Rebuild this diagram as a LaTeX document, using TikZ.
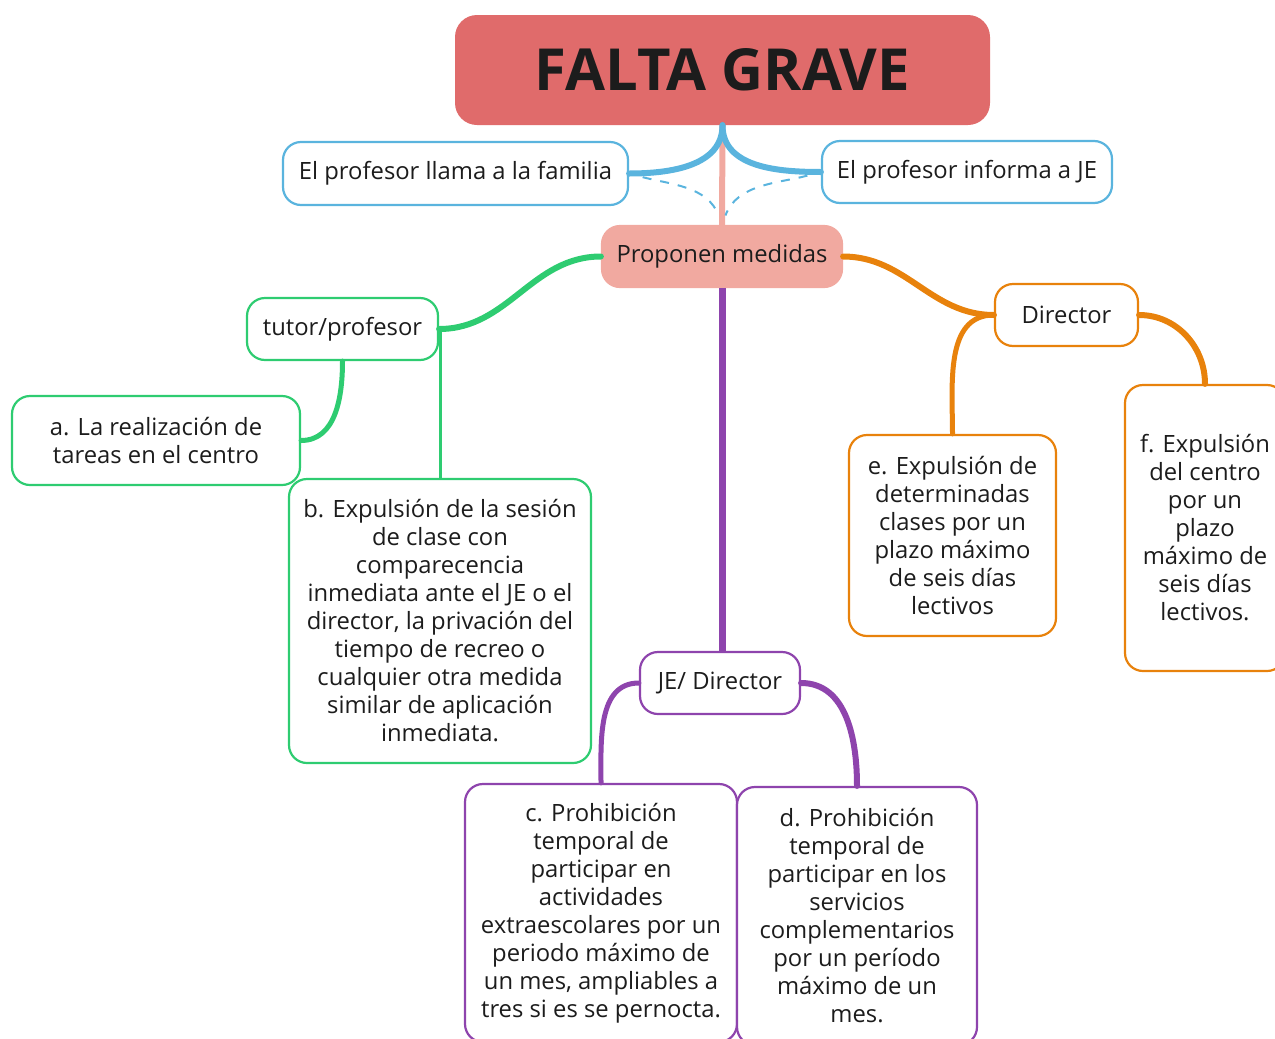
\documentclass[tikz,border=0pt]{standalone}
\usepackage{fontspec}
\setmainfont{Open Sans}
\definecolor{gravered}{HTML}{E06B6B}
\definecolor{salmon}{HTML}{F1A9A0}
\definecolor{azul}{HTML}{5AB4DE}
\definecolor{verde}{HTML}{2ECC71}
\definecolor{naranja}{HTML}{E8820C}
\definecolor{morado}{HTML}{8E44AD}
\definecolor{textgray}{HTML}{1C1C1C}
\begin{document}
\begin{tikzpicture}[x=1pt, y=-1pt,
  caja/.style={draw, line width=2.2pt, rounded corners=18pt, fill=white, align=center,
    inner sep=0pt, font=\fontsize{23.8}{28}\selectfont, text=textgray},
  rama/.style={line width=5pt, line cap=round},
  guion/.style={line width=2pt, dash pattern=on 9pt off 9pt, shorten <=14pt, shorten >=10pt}]
\useasboundingbox (0,0) rectangle (1275,1039);
% nodos principales
\node[fill=gravered, rounded corners=22pt, minimum width=535pt, minimum height=110pt,
  font=\fontsize{58}{58}\selectfont\bfseries, text=textgray] (grave) at (722.5,70) {FALTA GRAVE};
\node[caja, draw=azul, minimum width=345pt, minimum height=63pt] (llama) at (455.5,173.5) {El profesor llama a la familia};
\node[caja, draw=azul, minimum width=290pt, minimum height=62pt] (informa) at (967,172) {El profesor informa a JE};
\node[caja, draw=salmon, fill=salmon, minimum width=240pt, minimum height=61pt] (medidas) at (722,256.5) {Proponen medidas};
% rama verde
\node[caja, draw=verde, minimum width=191pt, minimum height=62pt] (tutor) at (342.5,329) {tutor/profesor};
\node[caja, draw=verde, minimum width=288pt, minimum height=89pt] (tareaa) at (156,440.5) {a. La realización de\\tareas en el centro};
\node[caja, draw=verde, minimum width=302pt, minimum height=284pt] (tareab) at (440,621) {b. Expulsión de la sesión\\de clase con\\comparecencia\\inmediata ante el JE o el\\director, la privación del\\tiempo de recreo o\\cualquier otra medida\\similar de aplicación\\inmediata.};
% rama naranja
\node[caja, draw=naranja, minimum width=143pt, minimum height=62pt] (director) at (1066.5,315) {Director};
\node[caja, draw=naranja, minimum width=207pt, minimum height=201pt] (tareae) at (952.5,535.5) {e. Expulsión de\\determinadas\\clases por un\\plazo máximo\\de seis días\\lectivos};
\node[caja, draw=naranja, minimum width=160pt, minimum height=286pt] (tareaf) at (1205,528) {f. Expulsión\\del centro\\por un\\plazo\\máximo de\\seis días\\lectivos.};
% rama morada
\node[caja, draw=morado, minimum width=160pt, minimum height=62pt] (jedir) at (720,683) {JE/ Director};
\node[caja, draw=morado, minimum width=272pt, minimum height=258pt] (tareac) at (601,913) {c. Prohibición\\temporal de\\participar en\\actividades\\extraescolares por un\\periodo máximo de\\un mes, ampliables a\\tres si es se pernocta.};
\node[caja, draw=morado, minimum width=240pt, minimum height=258pt] (taread) at (857,916) {d. Prohibición\\temporal de\\participar en los\\servicios\\complementarios\\por un período\\máximo de un\\mes.};
% conectores
\draw[salmon, line width=6pt] (grave.south) -- (medidas.north);
\draw[azul, rama, line width=6pt] (grave.south) to[out=-90, in=0] (llama.east);
\draw[azul, rama, line width=6pt] (grave.south) to[out=-90, in=180] (informa.west);
\draw[azul, guion] (llama.east) to[out=-15, in=110] (medidas.north);
\draw[azul, guion] (informa.west) to[out=195, in=70] (medidas.north);
\draw[verde, rama, line width=6pt] (medidas.west) to[out=180, in=0] (tutor.east);
\draw[verde, rama] (tutor.south) to[out=-90, in=0] (tareaa.east);
\draw[verde, line width=3pt] (tareab.north) -- (tareab.north |- tutor.east);
\draw[naranja, rama, line width=6pt] (medidas.east) to[out=0, in=180] (director.west);
\draw[naranja, rama] (director.west) to[out=180, in=90] (tareae.north);
\draw[naranja, rama, line width=6pt] (director.east) to[out=0, in=90] (tareaf.north);
\draw[morado, line width=7pt] (medidas.south) -- (medidas.south |- jedir.north);
\draw[morado, rama] (jedir.west) to[out=180, in=90] (tareac.north);
\draw[morado, rama, line width=6pt] (jedir.east) to[out=0, in=90] (taread.north);
\end{tikzpicture}
\end{document}
